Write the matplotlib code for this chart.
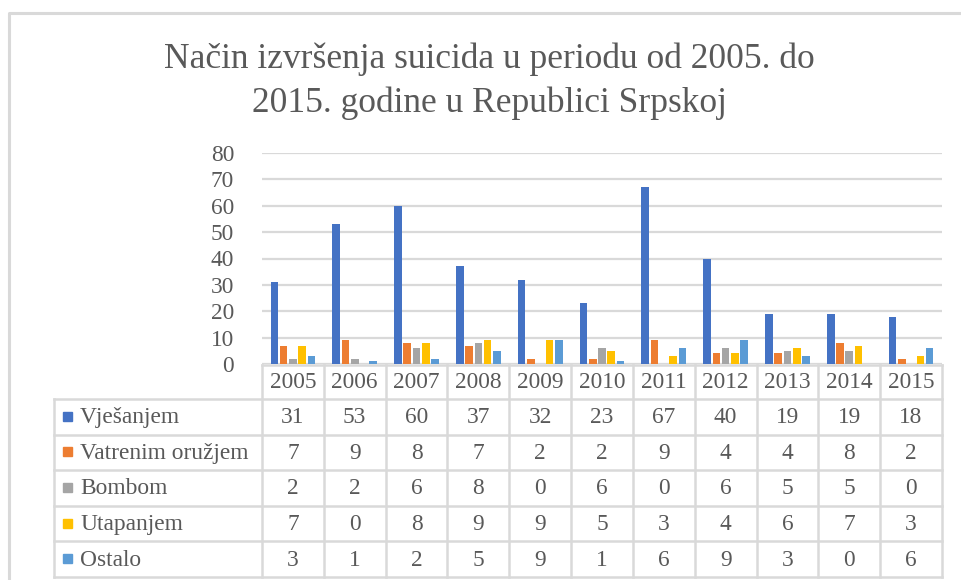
import numpy as np
import matplotlib
matplotlib.use("Agg")
from matplotlib import pyplot as plt
from matplotlib.patches import Rectangle

years = ["2005", "2006", "2007", "2008", "2009", "2010", "2011", "2012", "2013", "2014", "2015"]
series_names = ["Vješanjem", "Vatrenim oružjem", "Bombom", "Utapanjem", "Ostalo"]
vjesanjem = [31, 53, 60, 37, 32, 23, 67, 40, 19, 19, 18]
vatrenim = [7, 9, 8, 7, 2, 2, 9, 4, 4, 8, 2]
bombom = [2, 2, 6, 8, 0, 6, 0, 6, 5, 5, 0]
utapanjem = [7, 0, 8, 9, 9, 5, 3, 4, 6, 7, 3]
ostalo = [3, 1, 2, 5, 9, 1, 6, 9, 3, 0, 6]
colors = ["#4472C4", "#ED7D31", "#A5A5A5", "#FFC000", "#5B9BD5"]
title_lines = ["Način izvršenja suicida u periodu od 2005. do",
               "2015. godine u Republici Srpskoj"]

series = [vjesanjem, vatrenim, bombom, utapanjem, ostalo]

plt.rcParams["font.family"] = ["Liberation Serif", "DejaVu Serif"]
TXT = "#595959"
GRID = "#D9D9D9"
FS = 16.8

W, H = 961, 580
fig = plt.figure(figsize=(W / 100, H / 100), dpi=100)

# plot area in pixels
px_left, px_right, px_top, px_bottom = 262, 942, 153, 364
ax = fig.add_axes([px_left / W, 1 - px_bottom / H,
                   (px_right - px_left) / W, (px_bottom - px_top) / H])

x = np.arange(len(years))
step, width = 0.15, 0.124
for i, (vals, c) in enumerate(zip(series, colors)):
    ax.bar(x + (i - 2) * step, vals, width, color=c, zorder=3)

ax.set_xlim(-0.5, len(years) - 0.5)
ax.set_ylim(0, 80)
ax.set_yticks(range(0, 81, 10))
ax.set_xticks([])
ax.yaxis.grid(True, color=GRID, linewidth=1.6, zorder=0)
for s in ax.spines.values():
    s.set_visible(False)
ax.tick_params(axis="y", length=0, pad=20, labelsize=FS, labelcolor=TXT)

# overlay in pixel coordinates for frame, title and data table
ov = fig.add_axes([0, 0, 1, 1], zorder=-1)
ov.set_xlim(0, W)
ov.set_ylim(H, 0)
ov.axis("off")

ov.plot([9, 9, W + 5], [H + 5, 13, 13], color=GRID, linewidth=2.2)

for line, base in zip(title_lines, [68, 112]):
    ov.text(489, base, line, ha="center", va="baseline", fontsize=25.5, color=TXT)

col_w = (px_right - px_left) / len(years)
head_top, row0 = 365, 399
row_h = (577 - row0) / len(series_names)
leg_left = 54

lw = 1.8
for k in range(len(years) + 1):
    xx = px_left + k * col_w
    ov.plot([xx, xx], [head_top, 577], color=GRID, linewidth=lw)
ov.plot([px_left, px_right], [head_top, head_top], color=GRID, linewidth=lw)
ov.plot([leg_left, leg_left], [row0, 577], color=GRID, linewidth=lw)
for j in range(len(series_names) + 1):
    yy = row0 + j * row_h
    ov.plot([leg_left, px_right], [yy, yy], color=GRID, linewidth=lw)

for k, yr in enumerate(years):
    ov.text(px_left + (k + 0.5) * col_w, (head_top + row0) / 2 + 1, yr,
            ha="center", va="center", fontsize=FS, color=TXT)

for j, (name, vals, c) in enumerate(zip(series_names, series, colors)):
    yc = row0 + (j + 0.5) * row_h
    ov.add_patch(Rectangle((63, yc - 5), 9, 9, color=c))
    ov.text(80, yc + 1, name, ha="left", va="center", fontsize=FS, color=TXT)
    for k, v in enumerate(vals):
        ov.text(px_left + (k + 0.5) * col_w, yc + 1, str(v),
                ha="center", va="center", fontsize=FS, color=TXT)

fig.savefig("out.png", dpi=100, facecolor="white")
